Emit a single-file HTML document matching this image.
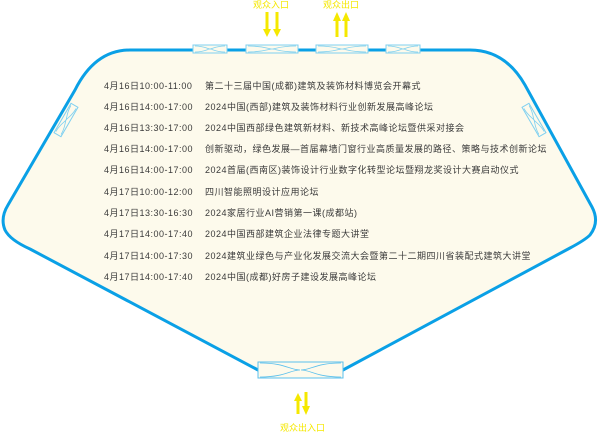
<!DOCTYPE html>
<html><head><meta charset="utf-8"><style>
html,body{margin:0;padding:0;background:#fff;width:600px;height:433px;overflow:hidden}
svg{display:block}
text{font-family:"Liberation Sans","Noto Sans CJK SC",sans-serif;font-size:9px;fill:#3a3a3a}
.y{fill:#f5e800;font-size:9px}
</style></head><body>
<svg width="600" height="433" viewBox="0 0 600 433">
<defs>
<g id="gate">
<rect x="-26" y="-4" width="52" height="8" fill="#fdfaec" stroke="#7fd0f0" stroke-width="1"/>
<path d="M-24,-3 C-8,-3 -3,0 0,0 C3,0 8,-3 24,-3 M-24,3 C-8,3 -3,0 0,0 C3,0 8,3 24,3" fill="none" stroke="#7fd0f0" stroke-width="0.8"/>
</g>
<g id="sgate">
<rect x="-17" y="-4" width="34" height="8" fill="#fdfaec" stroke="#7fd0f0" stroke-width="1"/>
<path d="M-15,-3 C-6,-3 -2,0 0,0 C2,0 6,-3 15,-3 M-15,3 C-6,3 -2,0 0,0 C2,0 6,3 15,3" fill="none" stroke="#7fd0f0" stroke-width="0.8"/>
</g>
</defs>
<path d="M130,50 L470,50 Q505,50 525,85 L592,207 Q600,222 590,235 Q585,240 570,248 L343,370 L258,370 L30,249 Q10,240 5,230 Q0,218 8,205 L75,90 Q95,50 130,50 Z" fill="#fdfaec" stroke="#0aa0e6" stroke-width="3" stroke-linejoin="round"/>
<use href="#sgate" x="210" y="49"/>
<use href="#gate" x="272" y="49"/>
<use href="#gate" x="342" y="49"/>
<use href="#sgate" x="403" y="49"/>
<use href="#sgate" transform="translate(66,120) rotate(-60)"/>
<use href="#sgate" transform="translate(534,120) rotate(60)"/>
<rect x="258" y="362" width="85" height="16" fill="#fdfaec" stroke="#5cc0ec" stroke-width="1"/>
<path d="M260,363 C285,363 290,370 300,370 C290,370 285,377 260,377 M341,363 C316,363 311,370 301,370 C311,370 316,377 341,377" fill="none" stroke="#5cc0ec" stroke-width="0.8"/>
<g stroke="#f5e800" stroke-width="3">
<line x1="267" y1="12" x2="267" y2="30"/><line x1="277" y1="12" x2="277" y2="30"/>
<line x1="337" y1="37" x2="337" y2="20"/><line x1="346" y1="37" x2="346" y2="20"/>
<line x1="298" y1="414" x2="298" y2="400"/><line x1="306" y1="392" x2="306" y2="407"/>
</g>
<g fill="#f5e800">
<path d="M263,29 L271,29 L267,37z M273,29 L281,29 L277,37z"/>
<path d="M333,21 L341,21 L337,12z M342,21 L350,21 L346,12z"/>
<path d="M294,401 L302,401 L298,393z M302,406 L310,406 L306,415z"/>
</g>
<text class="y" x="253" y="8">观众入口</text>
<text class="y" x="323" y="8">观众出口</text>
<text class="y" x="280" y="431">观众出入口</text>
<g letter-spacing="0.5">
<text x="104" y="89">4月16日10:00-11:00</text><text x="205" y="89">第二十三届中国(成都)建筑及装饰材料博览会开幕式</text>
<text x="104" y="110">4月16日14:00-17:00</text><text x="205" y="110">2024中国(西部)建筑及装饰材料行业创新发展高峰论坛</text>
<text x="104" y="131">4月16日13:30-17:00</text><text x="205" y="131">2024中国西部绿色建筑新材料、新技术高峰论坛暨供采对接会</text>
<text x="104" y="152">4月16日14:00-17:00</text><text x="205" y="152">创新驱动，绿色发展—首届幕墙门窗行业高质量发展的路径、策略与技术创新论坛</text>
<text x="104" y="173">4月16日14:00-17:00</text><text x="205" y="173">2024首届(西南区)装饰设计行业数字化转型论坛暨翔龙奖设计大赛启动仪式</text>
<text x="104" y="195">4月17日10:00-12:00</text><text x="205" y="195">四川智能照明设计应用论坛</text>
<text x="104" y="216">4月17日13:30-16:30</text><text x="205" y="216">2024家居行业AI营销第一课(成都站)</text>
<text x="104" y="237">4月17日14:00-17:40</text><text x="205" y="237">2024中国西部建筑企业法律专题大讲堂</text>
<text x="104" y="259">4月17日14:00-17:30</text><text x="205" y="259">2024建筑业绿色与产业化发展交流大会暨第二十二期四川省装配式建筑大讲堂</text>
<text x="104" y="280">4月17日14:00-17:40</text><text x="205" y="280">2024中国(成都)好房子建设发展高峰论坛</text>
</g>
</svg>
</body></html>
